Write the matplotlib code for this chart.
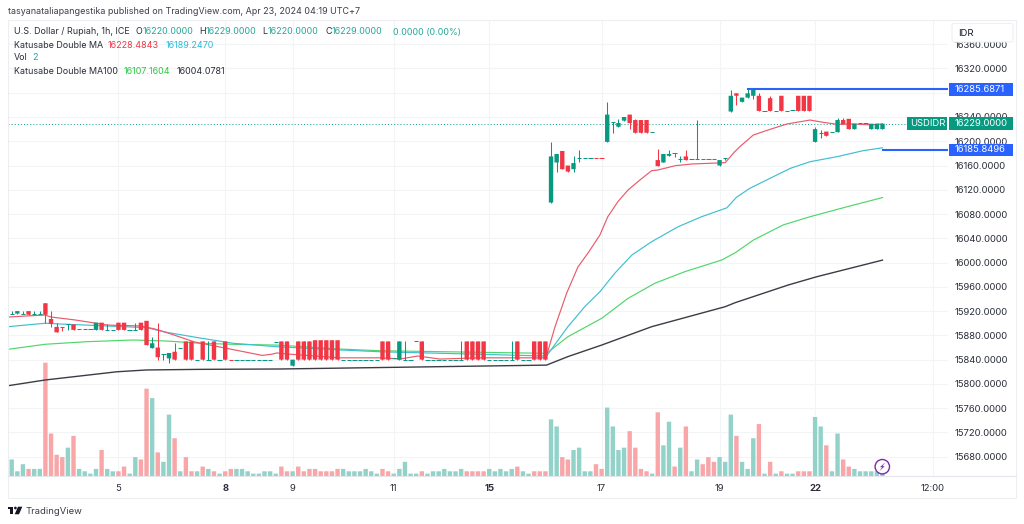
import matplotlib
matplotlib.use("Agg")
import matplotlib.pyplot as plt
from matplotlib.patches import Rectangle, Polygon, Circle, FancyBboxPatch

plt.rcParams['font.family'] = ['Inter', 'DejaVu Sans']

# ---------- data ----------
opens = [15916,15916,15916,15920,15916,15916,15933,15907,15894,15894,
 15898,15898,15890,15890,15890,15889,15901,15889,15889,15901,
 15901,15889,15889,15901,15904,15859,15860,15849,15842,15853,
 15860,15870,15870,15840,15870,15840,15870,15840,15870,15840,
 15840,15840,15840,15840,15840,15840,15840,15869,15870,15870,
 15830,15870,15870,15870,15872,15872,15872,15872,15872,15840,
 15840,15840,15840,15840,15840,15840,15870,15870,15843,15840,
 15840,15840,15870,15870,15840,15840,15840,15840,15840,15840,
 15840,15870,15870,15870,15870,15840,15840,15840,15840,15840,
 15870,15840,15840,15870,15870,15870,16099,16165,16184,16160,
 16154,16172,16172,16172,16172,16172,16199,16231,16224,16234,
 16244,16235,16235,16235,16215,16169,16165,16176,16181,16171,
 16175,16171,16171,16171,16171,16171,16160,16172,16249,16279,
 16265,16272,16275,16275,16250,16271,16250,16275,16250,16251,
 16275,16275,16275,16199,16214,16216,16216,16215,16235,16237,
 16220,16229.5,16229.5,16220,16220,16220]
closes = [15916,15920,15916,15914,15916,15916,15914,15899,15885,15894,
 15898,15889,15890,15890,15890,15901,15889,15889,15889,15889,
 15889,15889,15889,15889,15864,15867,15844,15849,15851,15840,
 15860,15840,15840,15840,15840,15840,15840,15840,15840,15840,
 15840,15840,15840,15840,15840,15840,15840,15869,15840,15840,
 15840,15840,15840,15840,15840,15840,15840,15840,15840,15840,
 15840,15840,15840,15840,15840,15840,15840,15840,15843,15870,
 15840,15840,15870,15840,15840,15840,15840,15840,15840,15840,
 15840,15840,15840,15840,15840,15840,15840,15840,15840,15840,
 15840,15840,15840,15840,15840,15840,16175,16179,16154,16150,
 16164,16172,16172,16172,16172,16172,16244,16231,16230,16240,
 16230,16214,16214,16214,16215,16159,16179,16179,16181,16171,
 16169,16171,16171,16171,16171,16171,16169,16172,16275,16275,
 16272,16279,16285,16250,16250,16250,16250,16250,16250,16251,
 16250,16250,16250,16220,16214,16209,16216,16235,16228,16220,
 16229,16229.5,16229.5,16229,16229,16229]
highs = [15920,15920,15920,15920,15920,15920,15933,15920,15900,15894,
 15899,15898,15890,15890,15890,15901,15901,15898,15889,15901,
 15901,15889,15900,15901,15904,15878,15901,15849,15851,15867,
 15860,15870,15870,15840,15870,15870,15870,15840,15870,15840,
 15840,15840,15840,15840,15840,15840,15840,15869,15870,15870,
 15840,15870,15870,15870,15872,15872,15872,15872,15872,15840,
 15840,15840,15840,15840,15840,15840,15870,15870,15843,15870,
 15870,15840,15870,15870,15840,15840,15840,15840,15840,15840,
 15870,15870,15870,15870,15870,15840,15840,15840,15840,15870,
 15870,15840,15840,15870,15870,15870,16199,16179,16184,16160,
 16175,16185,16172,16172,16172,16172,16264,16231,16236,16240,
 16244,16237,16235,16235,16215,16188,16179,16186,16181,16176,
 16185,16171,16235,16171,16171,16171,16169,16172,16285,16279,
 16272,16286,16285,16279,16250,16275,16250,16275,16250,16251,
 16275,16275,16275,16223,16218,16216,16216,16239,16239,16237,
 16229,16229.5,16229.5,16229,16229,16229]
lows = [15916,15916,15916,15914,15916,15916,15900,15894,15885,15888,
 15889,15889,15890,15890,15890,15889,15889,15889,15889,15889,
 15889,15889,15889,15889,15864,15859,15840,15840,15834,15840,
 15860,15840,15840,15840,15840,15840,15840,15840,15840,15840,
 15840,15840,15840,15840,15840,15840,15840,15869,15840,15840,
 15830,15840,15840,15840,15840,15840,15840,15840,15840,15840,
 15840,15840,15840,15840,15840,15840,15840,15840,15843,15840,
 15840,15840,15870,15840,15840,15840,15840,15840,15840,15840,
 15840,15840,15840,15840,15840,15840,15840,15840,15840,15840,
 15840,15840,15840,15840,15840,15840,16099,16149,16154,16150,
 16150,16165,16172,16172,16172,16172,16199,16214,16224,16234,
 16220,16214,16214,16214,16215,16159,16165,16176,16174,16165,
 16169,16171,16171,16171,16171,16171,16160,16169,16249,16260,
 16265,16272,16270,16250,16250,16250,16250,16250,16250,16251,
 16250,16250,16250,16199,16205,16209,16216,16215,16228,16220,
 16220,16229.5,16229.5,16220,16220,16220]
volumes = [7,2,5,3,3,3,48,18,9,8,
 12,17,3,2,1,3,11,3,2,2,
 4,1,8,7,37,33,10,6,26,16,
 2,8,2,2,4,3,2,1,2,3,
 3,3,2,1,1,2,2,1,4,2,
 2,4,2,3,3,2,2,2,3,3,
 2,2,2,3,2,1,3,2,1,3,
 6,1,1,2,1,2,2,3,2,2,
 3,2,2,2,2,3,2,3,2,3,
 4,2,1,2,2,2,24,21,8,7,
 11,12,2,2,5,3,29,21,11,12,
 19,12,3,2,1,27,13,23,4,12,
 21,2,7,5,8,6,8,6,26,17,
 6,3,16,22,1,6,1,2,1,1,
 2,2,2,25,21,13,2,18,7,4,
 3,2,2,2,2,2]
# g = up bar, r = down bar
directions = ("gggrggrrrr" "grggggrggr" "rggrrgrggr" "grrgrgrgrr" "ggggggggrr"
              "grrrrrrrrg" "ggggggrrgg" "gggrgggggg" "grrrrggggg" "rggrrrggrr"
              "ggggrrgggg" "rrrrgrggrg" "rggrrrgggr" "gggrgrgrgg" "rrrggrggrr"
              "gggggg")
ma_fast_x = [-0.66,5.9,7,11.3,17.1,23,25.5,27.8,32.6,40.8,44.6,46.3,47.2,49.5,58.4,65.6,69.1,72.3,76.2,83.4,95.1,
 96.7,98.8,100.8,102.6,104.7,106.1,107.9,109.7,111.8,113.9,115,118.1,121,127,128.7,129.6,132,135,138,142.1,144.4,146.9,149.8,152.8,155]
ma_fast_y = [15910.3,15913.6,15910.3,15905.4,15897,15895.5,15890.5,15884,15869,15854,15847,15849,15851,15849,15843,15843,15841,15846,15841,15843,15843,
 15894,15950,15993,16016,16045.5,16075.6,16100.4,16119.6,16136,16151.5,16152.6,16159.7,16162.5,16164.7,16182.8,16191,16210.3,16219.7,16228.5,16235,16231.3,16228,16228.5,16227,16228.48]
ma_slow_x = [-0.66,5.9,9.8,15.7,24,27.6,33.5,39.4,47.2,58.4,65.6,95.2,99,102,104.7,107.4,110.4,113.9,118.6,122.8,127.3,129,131.4,135,138.6,142.1,146.9,151.5,155]
ma_slow_y = [15894.3,15900,15898.3,15896,15892.7,15885,15875.7,15867,15861.3,15856,15853,15846,15894.3,15927.3,15952,15983,16012.5,16034.4,16059,16075.6,16090.3,16107.6,16122.5,16139,16155.4,16166.3,16174.6,16184.4,16189.25]
ma50_x = [-0.66,5.9,13.35,21.6,27.6,33.5,39.4,47.2,58.4,65.6,95.2,99,105,109.7,114.5,119.8,126.4,128.8,132,137.3,142.1,149.2,155]
ma50_y = [15857,15865.3,15869.6,15872.4,15870.7,15867,15865.3,15864,15857.5,15854.7,15850.4,15877.8,15908,15941,15966,15985,16004.3,16016.3,16037,16062,16075.6,16093.3,16107.16]
ma100_x = [-0.66,5.9,18.7,24,33.5,47.8,95.2,99,105,113.9,127,128.8,138.2,143.3,155]
ma100_y = [15797,15806.4,15820,15823,15824,15824.6,15831,15845,15864,15894.3,15927.3,15934,15963,15976.7,16004.08]

price_ticks = [15680,15720,15760,15800,15840,15880,15920,15960,16000,16040,16080,16120,16160,16200,16240,16280,16320,16360]
hidden_price_labels = [16280]  # fully covered by the blue tag in the reference
time_pos = [19,38,50,68,85,105,126,143,164]
time_labels = ['5','8','9','11','15','17','19','22','12:00']
time_bold = ['8','15','22']
last_price = 16229.0
level_high = 16285.6871
level_low = 16185.8496

UP, DOWN = '#089981', '#f23645'
VUP, VDOWN = '#92d2c9', '#f9a6a9'
FS_HEAD, FS_AXIS = 6.45, 6.8

# ---------- layout ----------
W, H = 1024, 524
fig = plt.figure(figsize=(W/100, H/100), dpi=100, facecolor='white')
L, R, T, B = 8, 948, 20, 476
rect = [L/W, 1-B/H, (R-L)/W, (B-T)/H]
XLIM = (-0.66, 166.66)
YLIM = (15648.2, 16399.9)

ax_g = fig.add_axes(rect, zorder=1)
ax_v = fig.add_axes(rect, zorder=2)
ax = fig.add_axes(rect, zorder=3)
for a in (ax_g, ax_v, ax):
    a.set_xlim(*XLIM)
    for s in a.spines.values():
        s.set_visible(False)
ax_g.set_ylim(*YLIM); ax.set_ylim(*YLIM)
ax_v.set_ylim(0, 193.2)
ax_v.patch.set_visible(False); ax.patch.set_visible(False)
ax_v.set_xticks([]); ax_v.set_yticks([])
ax.set_xticks([]); ax.set_yticks([])

ax_g.set_yticks(price_ticks)
ax_g.set_yticklabels(['' if p in hidden_price_labels else f'{p:.4f}' for p in price_ticks])
ax_g.yaxis.tick_right()
ax_g.tick_params(axis='y', length=0, pad=5.0, labelsize=FS_AXIS, labelcolor='#2a2e39')
ax_g.set_xticks(time_pos)
ax_g.set_xticklabels(time_labels)
ax_g.tick_params(axis='x', length=0, pad=6.0, labelsize=FS_AXIS, labelcolor='#2a2e39')
for lab in ax_g.get_xticklabels():
    if lab.get_text() in time_bold:
        lab.set_fontweight('bold')
ax_g.grid(True, color='#f3f4f6', lw=0.8)
ax_g.set_axisbelow(True)

# volume
xs = list(range(len(volumes)))
vbars = ax_v.bar(xs, volumes, width=0.78,
                 color=[VUP if d == 'g' else VDOWN for d in directions], linewidth=0)
for r in vbars:
    r.set_snap(False)

# moving averages
ax.plot(ma100_x, ma100_y, color='#3a3d45', lw=1.0, zorder=2)
ax.plot(ma50_x, ma50_y, color='#4fd66a', lw=0.85, zorder=2)
ax.plot(ma_slow_x, ma_slow_y, color='#3fbfd0', lw=0.85, zorder=2)
ax.plot(ma_fast_x, ma_fast_y, color='#ea5a6c', lw=0.85, zorder=2)

# candles
cols = [UP if d == 'g' else DOWN for d in directions]
ax.vlines(xs, lows, highs, colors=cols, lw=0.75, zorder=3)
bx, bb, bh, bc, dx, dy, dc = [], [], [], [], [], [], []
for i, (o, c) in enumerate(zip(opens, closes)):
    if o == c:
        dx.append(i); dy.append(o); dc.append(cols[i])
    else:
        bx.append(i); bb.append(min(o, c)); bh.append(abs(o-c)); bc.append(cols[i])
cbars = ax.bar(bx, bh, bottom=bb, width=0.78, color=bc, linewidth=0, zorder=4)
for r in cbars:
    r.set_snap(False)
ax.hlines(dy, [x-0.39 for x in dx], [x+0.39 for x in dx], colors=dc, lw=0.75, zorder=4)

# levels
ax.plot([-0.66, 160.6], [last_price, last_price], color=UP, lw=0.7, dashes=(1, 2.2), zorder=1)
ax.hlines(level_high, 130.9, XLIM[1], colors='#2962ff', lw=1.5, zorder=5)
ax.hlines(level_low, 155, XLIM[1], colors='#2962ff', lw=1.5, zorder=5)

# ---------- overlay in pixel space ----------
ov = fig.add_axes([0, 0, 1, 1], zorder=10)
ov.set_xlim(0, W); ov.set_ylim(H, 0); ov.axis('off')
y_of = lambda p: T + (YLIM[1]-p)/(YLIM[1]-YLIM[0])*(B-T)

ov.add_patch(Rectangle((7.5, 20), 1008.5, 477.7, fill=False, ec='#eceef1', lw=0.8))
ov.plot([7.5, 1016], [476, 476], color='#e4e6ec', lw=0.8)

def txt(x, y, s, color='#2a2e39', size=FS_HEAD, **kw):
    kw.setdefault('ha', 'left')
    return ov.text(x, y, s, color=color, fontsize=size, va='center', **kw)

txt(7.5, 12, 'tasyanataliapangestika published on TradingView.com, Apr 23, 2024 04:19 UTC+7', color='#3a3e4a')

G = '#26a69a'
txt(14, 32, 'U.S. Dollar / Rupiah, 1h, ICE')
for x0, lab, x1, val in [(136, 'O', 143, '16220.0000'), (199, 'H', 205.5, '16229.0000'),
                         (262.5, 'L', 268, '16220.0000'), (325, 'C', 331.5, '16229.0000')]:
    txt(x0, 32, lab)
    txt(x1, 32, val, color=G)
txt(393, 32, '0.0000 (0.00%)', color=G)
txt(14, 45, 'Katusabe Double MA')
txt(107.7, 45, '16228.4843', color='#f23645')
txt(165.7, 45, '16189.2470', color='#26bcd8')
txt(14, 58, 'Vol')
txt(32.3, 58, '2', color=G)
txt(14, 71, 'Katusabe Double MA100')
txt(124, 71, '16107.1604', color='#27c93f')
txt(176.7, 71, '16004.0781', color='#2a2e39')

# IDR button
ov.add_patch(FancyBboxPatch((952, 23.5), 61, 18.5, boxstyle='round,pad=0,rounding_size=2',
                            fc='white', ec='#eef0f3', lw=0.8))
txt(958, 33, 'IDR', color='#131722', size=FS_AXIS)

# price tags
def tag(p, s, color):
    y = y_of(p)
    ov.add_patch(Rectangle((948.7, y-6.3), 64, 12.6, fc=color, ec='none'))
    txt(955, y, s, color='white', size=FS_AXIS)
ly = y_of(last_price)
ov.add_patch(Rectangle((906.7, ly-6.3), 40.4, 12.6, fc=UP, ec='none'))
txt(910, ly, 'USDIDR', color='white', size=FS_AXIS)
tag(last_price, '16229.0000', UP)
tag(level_high, '16285.6871', '#2962ff')
tag(level_low, '16185.8496', '#2962ff')

# lightning badge
ov.add_patch(Circle((882.3, 466.7), 7.2, fc='white', ec='#7b2aa8', lw=1.0))
ov.add_patch(Polygon([(885.3, 462.2), (880, 467.2), (882.2, 467.2), (879.3, 471.2),
                      (884.7, 466.2), (882.5, 466.2)], closed=True, fc='#7b2aa8', ec='none'))

# TradingView logo
ov.add_patch(Polygon([(7.7, 506.7), (13.2, 506.7), (13.2, 514.3), (10.3, 514.3), (10.3, 509.4), (7.7, 509.4)],
                     closed=True, fc='#131722', ec='none'))
ov.add_patch(Circle((15.4, 508), 1.35, fc='#131722', ec='none'))
ov.add_patch(Polygon([(18, 506.7), (22.3, 506.7), (19, 514.3), (14.7, 514.3)], closed=True, fc='#131722', ec='none'))
txt(25.7, 511, 'TradingView', color='#3a3e4a', size=FS_AXIS)

fig.savefig('out.png', dpi=100)
